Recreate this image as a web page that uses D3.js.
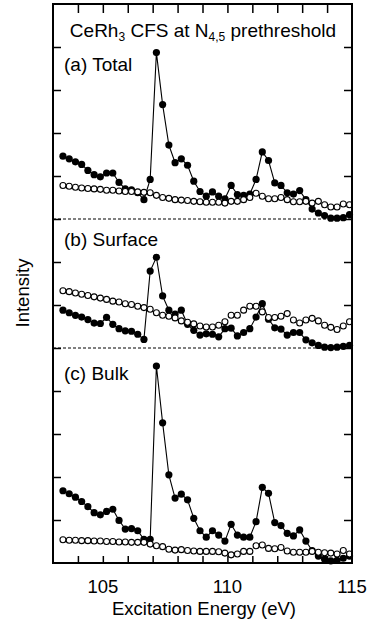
<!DOCTYPE html>
<html>
<head>
<meta charset="utf-8">
<script src="https://cdn.jsdelivr.net/npm/d3@7"></script>
<style>
    body { margin: 0; background: #fff; }
    svg { display: block; }
    text { font-family: "Liberation Sans", Arial, Helvetica, sans-serif; fill: #000; }
</style>
</head>
<body>
<div id="vis"></div>
<script>

// photon energies (eV)
let energies = [103.4, 103.65, 103.9, 104.15, 104.4, 104.65, 104.9, 105.15, 105.4, 105.65,
    105.9, 106.15, 106.4, 106.65, 106.9, 107.15, 107.4, 107.65, 107.9, 108.15,
    108.4, 108.65, 108.9, 109.15, 109.4, 109.65, 109.9, 110.15, 110.4, 110.65,
    110.9, 111.15, 111.4, 111.65, 111.9, 112.15, 112.4, 112.65, 112.9, 113.15,
    113.4, 113.65, 113.9, 114.15, 114.4, 114.65, 114.9];

// (a) Total
let totalFilled = [1.46, 1.40, 1.33, 1.27, 1.13, 1.03, 0.98, 1.07, 1.07, 0.85,
    0.70, 0.68, 0.61, 0.45, 0.92, 3.87, 2.66, 1.72, 1.31, 1.40,
    1.25, 0.88, 0.64, 0.53, 0.63, 0.53, 0.47, 0.78, 0.57, 0.55,
    0.58, 0.92, 1.56, 1.36, 0.84, 0.78, 0.61, 0.58, 0.66, 0.45,
    0.23, 0.14, 0.08, 0.02, 0.02, 0.03, 0.10];
let totalOpen = [0.78, 0.76, 0.74, 0.72, 0.71, 0.70, 0.69, 0.67, 0.67, 0.65,
    0.64, 0.64, 0.63, 0.62, 0.61, 0.55, 0.50, 0.48, 0.45, 0.44,
    0.43, 0.41, 0.40, 0.39, 0.39, 0.39, 0.37, 0.41, 0.41, 0.45,
    0.50, 0.60, 0.53, 0.47, 0.47, 0.50, 0.45, 0.40, 0.40, 0.41,
    0.37, 0.41, 0.33, 0.28, 0.28, 0.35, 0.33];

// (b) Surface
let surfaceFilled = [0.88, 0.82, 0.76, 0.72, 0.66, 0.58, 0.57, 0.71, 0.55, 0.45,
    0.40, 0.39, 0.32, 0.20, 1.79, 2.11, 1.21, 0.88, 0.79, 0.88,
    0.55, 0.41, 0.30, 0.33, 0.32, 0.26, 0.45, 0.46, 0.28, 0.36,
    0.45, 0.72, 1.03, 0.67, 0.47, 0.44, 0.30, 0.36, 0.36, 0.19,
    0.12, 0.06, 0.02, 0.01, 0.02, 0.04, 0.06];
let surfaceOpen = [1.33, 1.31, 1.28, 1.25, 1.22, 1.19, 1.16, 1.13, 1.09, 1.07,
    1.03, 1.01, 0.97, 0.94, 0.90, 0.82, 0.76, 0.74, 0.70, 0.63,
    0.60, 0.56, 0.51, 0.49, 0.49, 0.53, 0.61, 0.76, 0.76, 0.88,
    0.97, 0.97, 0.84, 0.71, 0.71, 0.74, 0.80, 0.65, 0.58, 0.65,
    0.69, 0.63, 0.53, 0.48, 0.43, 0.51, 0.61];

// (c) Bulk
let bulkFilled = [1.68, 1.61, 1.53, 1.43, 1.31, 1.17, 1.12, 1.20, 1.25, 0.99,
    0.79, 0.80, 0.75, 0.55, 0.55, 4.58, 3.26, 2.05, 1.51, 1.60,
    1.47, 1.04, 0.75, 0.60, 0.75, 0.65, 0.51, 0.90, 0.65, 0.60,
    0.60, 0.96, 1.76, 1.62, 0.94, 0.87, 0.69, 0.63, 0.77, 0.51,
    0.29, 0.16, 0.09, 0.05, 0.06, 0.11, 0.16];
let bulkOpen = [0.54, 0.53, 0.53, 0.52, 0.52, 0.51, 0.51, 0.50, 0.50, 0.49,
    0.49, 0.48, 0.48, 0.48, 0.44, 0.40, 0.38, 0.32, 0.30, 0.31,
    0.29, 0.28, 0.27, 0.27, 0.27, 0.26, 0.23, 0.19, 0.21, 0.27,
    0.27, 0.40, 0.42, 0.34, 0.33, 0.36, 0.28, 0.25, 0.25, 0.25,
    0.27, 0.25, 0.24, 0.23, 0.21, 0.29, 0.21];

let xTickLabels = [105, 110, 115];

let panels = [
    {label: '(b)', name: 'Surface', offset: 5, filled: surfaceFilled, open: surfaceOpen},
    {label: '(a)', name: 'Total', offset: 8, filled: totalFilled, open: totalOpen},
    {label: '(c)', name: 'Bulk', offset: 0, filled: bulkFilled, open: bulkOpen}
];

let width = 373,
    height = 624;

let margin = {top: 4, right: 21, bottom: 61, left: 53};

let xScale = d3.scaleLinear()
    .domain([103, 115])
    .range([margin.left, width - margin.right]);

let yScale = d3.scaleLinear()
    .domain([0, 13])
    .range([height - margin.bottom, margin.top]);

let svg = d3.select('#vis')
    .append('svg')
    .attr('width', width)
    .attr('height', height);

// Axes (ticks inward on all four sides)
let xTicks = d3.range(104, 115, 1);
let yTicks = d3.range(1, 13, 1);

svg.append('g')
    .attr('transform', 'translate(0,' + yScale(0) + ')')
    .call(d3.axisTop(xScale).tickValues(xTicks).tickSize(7).tickFormat(''))
    .call(g => g.select('.domain').remove());

svg.append('g')
    .attr('transform', 'translate(0,' + yScale(13) + ')')
    .call(d3.axisBottom(xScale).tickValues(xTicks).tickSize(9).tickFormat(''))
    .call(g => g.select('.domain').remove());

svg.append('g')
    .attr('transform', 'translate(' + xScale(103) + ',0)')
    .call(d3.axisRight(yScale).tickValues(yTicks).tickSize(8).tickFormat(''))
    .call(g => g.select('.domain').remove());

svg.append('g')
    .attr('transform', 'translate(' + xScale(115) + ',0)')
    .call(d3.axisLeft(yScale).tickValues(yTicks).tickSize(8).tickFormat(''))
    .call(g => g.select('.domain').remove());

svg.selectAll('.tick line')
    .attr('stroke', '#000')
    .attr('stroke-width', 1.5);

// tick labels
svg.selectAll('text.xlabel')
    .data(xTickLabels)
    .enter()
    .append('text')
    .attr('class', 'xlabel')
    .attr('x', d => xScale(d))
    .attr('y', 593)
    .attr('text-anchor', 'middle')
    .attr('font-size', 18.5)
    .text(d => d);

// baselines of (a) and (b)
svg.selectAll('line.base')
    .data([5, 8])
    .enter()
    .append('line')
    .attr('class', 'base')
    .attr('x1', xScale(103))
    .attr('x2', xScale(115))
    .attr('y1', d => yScale(d))
    .attr('y2', d => yScale(d))
    .attr('stroke', '#000')
    .attr('stroke-width', 1)
    .attr('stroke-dasharray', '3,2');

let line = d3.line()
    .x(d => xScale(d.e))
    .y(d => yScale(d.v));

panels.forEach(function(p) {
    let filled = energies.map((e, i) => ({e: e, v: p.filled[i] + p.offset}));
    let open = energies.map((e, i) => ({e: e, v: p.open[i] + p.offset}));

    let g = svg.append('g').attr('class', 'panel');

    g.append('path')
        .datum(filled)
        .attr('d', line)
        .attr('fill', 'none')
        .attr('stroke', '#000')
        .attr('stroke-width', 1.1);

    g.selectAll('circle.filled')
        .data(filled)
        .enter()
        .append('circle')
        .attr('class', 'filled')
        .attr('cx', d => xScale(d.e))
        .attr('cy', d => yScale(d.v))
        .attr('r', 3.6)
        .attr('fill', '#000');

    g.selectAll('circle.open')
        .data(open)
        .enter()
        .append('circle')
        .attr('class', 'open')
        .attr('cx', d => xScale(d.e))
        .attr('cy', d => yScale(d.v))
        .attr('r', 3)
        .attr('fill', '#fff')
        .attr('stroke', '#000')
        .attr('stroke-width', 1.1);
});

// frame
svg.append('rect')
    .attr('x', xScale(103))
    .attr('y', yScale(13))
    .attr('width', xScale(115) - xScale(103))
    .attr('height', yScale(0) - yScale(13))
    .attr('fill', 'none')
    .attr('stroke', '#000')
    .attr('stroke-width', 2);

// panel names
let labelY = {Total: 71, Surface: 246, Bulk: 380};
svg.selectAll('text.panel-name')
    .data(panels)
    .enter()
    .append('text')
    .attr('class', 'panel-name')
    .attr('x', 64)
    .attr('y', d => labelY[d.name])
    .attr('font-size', 19)
    .text(d => d.label + ' ' + d.name);

// title
let title = svg.append('text')
    .attr('x', 203)
    .attr('y', 37)
    .attr('text-anchor', 'middle')
    .attr('font-size', 19);
title.append('tspan').text('CeRh');
title.append('tspan').attr('font-size', 12).attr('dy', 4).text('3');
title.append('tspan').attr('dy', -4).text(' CFS at N');
title.append('tspan').attr('font-size', 12).attr('dy', 4).text('4,5');
title.append('tspan').attr('dy', -4).text(' prethreshold');

// axis titles
svg.append('text')
    .attr('x', 204)
    .attr('y', 615)
    .attr('text-anchor', 'middle')
    .attr('font-size', 18.5)
    .text('Excitation Energy (eV)');

svg.append('text')
    .attr('transform', 'translate(29,' + 293 + ') rotate(-90)')
    .attr('text-anchor', 'middle')
    .attr('font-size', 18.5)
    .text('Intensity');

</script>
</body>
</html>
